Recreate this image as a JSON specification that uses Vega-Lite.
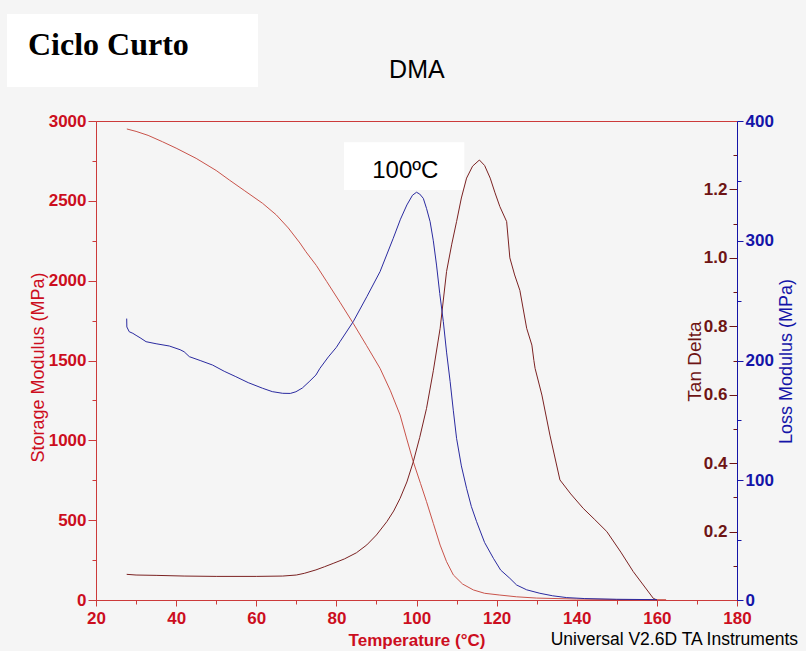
{
  "$schema": "https://vega.github.io/schema/vega-lite/v6.json",
  "width": 641,
  "height": 479,
  "autosize": "none",
  "padding": {"left": 96, "top": 121, "right": 69, "bottom": 51},
  "background": "#f5f5f5",
  "config": {
    "view": {"stroke": "#cc3a3a", "strokeWidth": 1},
    "axis": {"grid": false, "labelFont": "Liberation Sans", "titleFont": "Liberation Sans", "domainWidth": 1, "tickWidth": 1, "labelOverlap": false, "labelFlush": false}
  },
  "datasets": {
    "storage": [
      {"T": 27.7, "E": 2950}, {"T": 30, "E": 2935}, {"T": 33, "E": 2910}, {"T": 36.6, "E": 2870},
      {"T": 40, "E": 2830}, {"T": 45, "E": 2766}, {"T": 50, "E": 2690}, {"T": 53.3, "E": 2630},
      {"T": 57, "E": 2565}, {"T": 61.6, "E": 2484}, {"T": 65, "E": 2412}, {"T": 68, "E": 2330},
      {"T": 70.9, "E": 2236}, {"T": 72.4, "E": 2181}, {"T": 75, "E": 2095}, {"T": 77.6, "E": 1994},
      {"T": 80.9, "E": 1865}, {"T": 84.2, "E": 1733}, {"T": 87.5, "E": 1595}, {"T": 90.9, "E": 1451},
      {"T": 93.5, "E": 1310}, {"T": 95.9, "E": 1159}, {"T": 97.5, "E": 1015}, {"T": 99.2, "E": 866},
      {"T": 101, "E": 730}, {"T": 102.5, "E": 616}, {"T": 104.2, "E": 480}, {"T": 105.9, "E": 344},
      {"T": 107.5, "E": 240}, {"T": 109.2, "E": 157}, {"T": 111.5, "E": 100}, {"T": 114.2, "E": 63},
      {"T": 117, "E": 42}, {"T": 120.8, "E": 31}, {"T": 125, "E": 20}, {"T": 130, "E": 12},
      {"T": 140, "E": 6}, {"T": 150, "E": 3}, {"T": 162.3, "E": 2}
    ],
    "loss": [
      {"T": 27.66, "L": 235}, {"T": 27.7, "L": 228}, {"T": 28.3, "L": 224}, {"T": 29.2, "L": 222.7},
      {"T": 30, "L": 221}, {"T": 31, "L": 219}, {"T": 32.5, "L": 215.7}, {"T": 35, "L": 214},
      {"T": 38.3, "L": 212.1}, {"T": 41, "L": 209}, {"T": 42, "L": 207.3}, {"T": 43.3, "L": 203.2},
      {"T": 46, "L": 200}, {"T": 49.1, "L": 196.2}, {"T": 52, "L": 191}, {"T": 54.9, "L": 186.5},
      {"T": 58, "L": 181.5}, {"T": 61.6, "L": 176.8}, {"T": 64, "L": 174}, {"T": 66.6, "L": 172.6},
      {"T": 68.5, "L": 172.5}, {"T": 69.9, "L": 173.9}, {"T": 71.5, "L": 177}, {"T": 73.2, "L": 182.3},
      {"T": 74.9, "L": 187.9}, {"T": 75.9, "L": 193.5}, {"T": 78, "L": 203}, {"T": 80, "L": 211},
      {"T": 80.9, "L": 215.7}, {"T": 84.2, "L": 232.4}, {"T": 87.6, "L": 253.3}, {"T": 90.9, "L": 274.2},
      {"T": 94.2, "L": 302.1}, {"T": 96, "L": 318}, {"T": 97.6, "L": 329.9}, {"T": 99, "L": 338},
      {"T": 100, "L": 340.5}, {"T": 100.8, "L": 339}, {"T": 101.7, "L": 335.4}, {"T": 102.5, "L": 327},
      {"T": 103.4, "L": 315.9}, {"T": 104.2, "L": 300}, {"T": 105, "L": 279.7}, {"T": 105.8, "L": 256},
      {"T": 106.7, "L": 232.4}, {"T": 107.5, "L": 207}, {"T": 108.4, "L": 182.3}, {"T": 109.2, "L": 158},
      {"T": 110, "L": 135}, {"T": 111.2, "L": 112}, {"T": 112.5, "L": 93.3}, {"T": 113.7, "L": 78},
      {"T": 115, "L": 65.4}, {"T": 117, "L": 48}, {"T": 119.2, "L": 34.8}, {"T": 121, "L": 25},
      {"T": 123.3, "L": 18.1}, {"T": 125, "L": 12.5}, {"T": 127.5, "L": 8.5}, {"T": 130.8, "L": 5.6},
      {"T": 134, "L": 3.5}, {"T": 137.5, "L": 2}, {"T": 142, "L": 1.2}, {"T": 150, "L": 0.6},
      {"T": 160, "L": 0.3}
    ],
    "tand": [
      {"T": 27.66, "D": 0.075}, {"T": 30, "D": 0.073}, {"T": 35, "D": 0.072}, {"T": 42, "D": 0.07},
      {"T": 50, "D": 0.069}, {"T": 60, "D": 0.069}, {"T": 66.6, "D": 0.07}, {"T": 70, "D": 0.073},
      {"T": 72, "D": 0.078}, {"T": 74.9, "D": 0.088}, {"T": 77, "D": 0.097}, {"T": 79.2, "D": 0.107},
      {"T": 82, "D": 0.12}, {"T": 85, "D": 0.138}, {"T": 87.6, "D": 0.161}, {"T": 90, "D": 0.19},
      {"T": 92.6, "D": 0.229}, {"T": 94.3, "D": 0.26}, {"T": 95.9, "D": 0.297}, {"T": 97.6, "D": 0.345},
      {"T": 99.2, "D": 0.404}, {"T": 100.8, "D": 0.475}, {"T": 102.5, "D": 0.56}, {"T": 104.2, "D": 0.67},
      {"T": 105.9, "D": 0.794}, {"T": 107.5, "D": 0.96}, {"T": 108.8, "D": 1.04}, {"T": 110, "D": 1.106},
      {"T": 111.2, "D": 1.175}, {"T": 112.5, "D": 1.233}, {"T": 114, "D": 1.268}, {"T": 115.7, "D": 1.286},
      {"T": 117, "D": 1.27}, {"T": 118.4, "D": 1.233}, {"T": 119.6, "D": 1.19}, {"T": 120.8, "D": 1.15},
      {"T": 122.5, "D": 1.106}, {"T": 123.3, "D": 1.0}, {"T": 124.5, "D": 0.95}, {"T": 125.8, "D": 0.905},
      {"T": 127.5, "D": 0.794}, {"T": 128.8, "D": 0.745}, {"T": 129.3, "D": 0.7}, {"T": 129.6, "D": 0.677},
      {"T": 131.3, "D": 0.599}, {"T": 133.3, "D": 0.482}, {"T": 135.8, "D": 0.351}, {"T": 138.5, "D": 0.31},
      {"T": 141.6, "D": 0.268}, {"T": 144.5, "D": 0.235}, {"T": 147.5, "D": 0.2}, {"T": 151, "D": 0.14},
      {"T": 154.1, "D": 0.083}, {"T": 159.1, "D": 0.005}, {"T": 160, "D": 0.0}
    ]
  },
  "resolve": {"scale": {"y": "independent"}},
  "layer": [
    {
      "data": {"name": "storage"},
      "mark": {"type": "line", "color": "#c9534a", "strokeWidth": 1},
      "encoding": {
        "x": {
          "field": "T", "type": "quantitative",
          "scale": {"domain": [20, 180], "nice": false, "zero": false},
          "axis": {
            "orient": "bottom",
            "values": [20, 30, 40, 50, 60, 70, 80, 90, 100, 110, 120, 130, 140, 150, 160, 170, 180],
            "format": "d",
            "labelExpr": "datum.value % 20 === 0 ? datum.label : ''",
            "tickSize": {"condition": {"test": "datum.value % 20 === 0", "value": 6}, "value": 4},
            "domainColor": "#cc3a3a", "tickColor": "#cc3a3a",
            "labelColor": "#cc0e1e", "labelFontSize": 17, "labelFontWeight": "bold", "labelPadding": 4,
            "title": "Temperature (°C)", "titleColor": "#cc0e1e", "titleFontSize": 17, "titleFontWeight": "bold",
            "titleX": 320.5, "titleY": 45, "titleAlign": "center", "titleBaseline": "alphabetic"
          }
        },
        "y": {
          "field": "E", "type": "quantitative",
          "scale": {"domain": [0, 3000], "nice": false},
          "axis": {
            "orient": "left",
            "values": [0, 250, 500, 750, 1000, 1250, 1500, 1750, 2000, 2250, 2500, 2750, 3000],
            "format": "d",
            "labelExpr": "datum.value % 500 === 0 ? datum.label : ''",
            "tickSize": {"condition": {"test": "datum.value % 500 === 0", "value": 8}, "value": 4},
            "domainColor": "#cc3a3a", "tickColor": "#cc3a3a",
            "labelColor": "#cc0e1e", "labelFontSize": 17, "labelFontWeight": "bold", "labelPadding": 2,
            "labelBaseline": "middle",
            "title": "Storage Modulus (MPa)", "titleColor": "#cc0e1e", "titleFontSize": 18, "titleFontWeight": "normal",
            "titleX": -58, "titleY": 246, "titleAngle": 270, "titleAlign": "center", "titleBaseline": "middle"
          }
        }
      }
    },
    {
      "data": {"values": [{}]},
      "mark": {"type": "rect", "color": "#ffffff"},
      "encoding": {
        "x": {"datum": -2.215, "type": "quantitative", "scale": {"domain": [20, 180], "nice": false, "zero": false}},
        "x2": {"datum": 60.437},
        "y": {"datum": 3670.15, "type": "quantitative", "scale": {"domain": [0, 3000], "nice": false}, "axis": null},
        "y2": {"datum": 3212.9}
      }
    },
    {
      "data": {"values": [{}]},
      "mark": {"type": "rect", "color": "#ffffff"},
      "encoding": {
        "x": {"datum": 81.9, "type": "quantitative", "scale": {"domain": [20, 180], "nice": false, "zero": false}},
        "x2": {"datum": 111.93},
        "y": {"datum": 2866.6, "type": "quantitative", "scale": {"domain": [0, 3000], "nice": false}, "axis": null},
        "y2": {"datum": 2567.9}
      }
    },
    {
      "data": {"values": [{}]},
      "mark": {"type": "text", "text": "Ciclo Curto", "font": "Liberation Serif", "fontWeight": "bold", "fontSize": 32, "align": "left", "baseline": "alphabetic", "color": "#000000"},
      "encoding": {
        "x": {"datum": 3.026, "type": "quantitative", "scale": {"domain": [20, 180], "nice": false, "zero": false}},
        "y": {"datum": 3413.4, "type": "quantitative", "scale": {"domain": [0, 3000], "nice": false}, "axis": null}
      }
    },
    {
      "data": {"values": [{}]},
      "mark": {"type": "text", "text": "DMA", "font": "Liberation Sans", "fontSize": 25, "align": "center", "baseline": "alphabetic", "color": "#000000"},
      "encoding": {
        "x": {"datum": 100.1, "type": "quantitative", "scale": {"domain": [20, 180], "nice": false, "zero": false}},
        "y": {"datum": 3267.4, "type": "quantitative", "scale": {"domain": [0, 3000], "nice": false}, "axis": null}
      }
    },
    {
      "data": {"values": [{}]},
      "mark": {"type": "text", "text": "100ºC", "font": "Liberation Sans", "fontSize": 24, "align": "center", "baseline": "alphabetic", "color": "#000000"},
      "encoding": {
        "x": {"datum": 97.21, "type": "quantitative", "scale": {"domain": [20, 180], "nice": false, "zero": false}},
        "y": {"datum": 2644.9, "type": "quantitative", "scale": {"domain": [0, 3000], "nice": false}, "axis": null}
      }
    },
    {
      "data": {"values": [{}]},
      "mark": {"type": "text", "text": "Universal V2.6D TA Instruments", "font": "Liberation Sans", "fontSize": 17.5, "align": "right", "baseline": "alphabetic", "color": "#000000"},
      "encoding": {
        "x": {"datum": 195.23, "type": "quantitative", "scale": {"domain": [20, 180], "nice": false, "zero": false}},
        "y": {"datum": -281.8, "type": "quantitative", "scale": {"domain": [0, 3000], "nice": false}, "axis": null}
      }
    },
    {
      "data": {"name": "tand"},
      "mark": {"type": "line", "color": "#7b2222", "strokeWidth": 1},
      "encoding": {
        "x": {"field": "T", "type": "quantitative", "scale": {"domain": [20, 180], "nice": false, "zero": false}},
        "y": {
          "field": "D", "type": "quantitative",
          "scale": {"domain": [0, 1.4], "nice": false},
          "axis": {
            "orient": "right",
            "domain": false,
            "values": [0.1, 0.2, 0.3, 0.4, 0.5, 0.6, 0.7, 0.8, 0.9, 1.0, 1.1, 1.2, 1.3],
            "labelExpr": "round(datum.value * 10) % 2 === 0 ? format(datum.value, '.1f') : ''",
            "tickSize": {"condition": {"test": "round(datum.value * 10) % 2 === 0", "value": -8}, "value": -4},
            "tickColor": "#6e1414",
            "labelAlign": "right", "labelBaseline": "middle", "labelPadding": -2,
            "labelColor": "#6e1414", "labelFontSize": 17, "labelFontWeight": "bold",
            "title": "Tan Delta", "titleColor": "#6e1414", "titleFontSize": 19, "titleFontWeight": "normal",
            "titleX": -43, "titleY": 240, "titleAngle": 270, "titleAlign": "center", "titleBaseline": "middle"
          }
        }
      }
    },
    {
      "data": {"name": "loss"},
      "mark": {"type": "line", "color": "#2a2aa0", "strokeWidth": 1},
      "encoding": {
        "x": {"field": "T", "type": "quantitative", "scale": {"domain": [20, 180], "nice": false, "zero": false}},
        "y": {
          "field": "L", "type": "quantitative",
          "scale": {"domain": [0, 400], "nice": false},
          "axis": {
            "orient": "right",
            "values": [0, 50, 100, 150, 200, 250, 300, 350, 400],
            "format": "d",
            "labelExpr": "datum.value % 100 === 0 ? datum.label : ''",
            "tickSize": {"condition": {"test": "datum.value % 100 === 0", "value": 6}, "value": 4},
            "domainColor": "#1414a8", "tickColor": "#1414a8",
            "labelColor": "#1414a8", "labelFontSize": 17, "labelFontWeight": "bold", "labelPadding": 2,
            "labelBaseline": "middle",
            "title": "Loss Modulus (MPa)", "titleColor": "#1414a8", "titleFontSize": 18, "titleFontWeight": "normal",
            "titleX": 49, "titleY": 240, "titleAngle": 270, "titleAlign": "center", "titleBaseline": "middle"
          }
        }
      }
    }
  ]
}
